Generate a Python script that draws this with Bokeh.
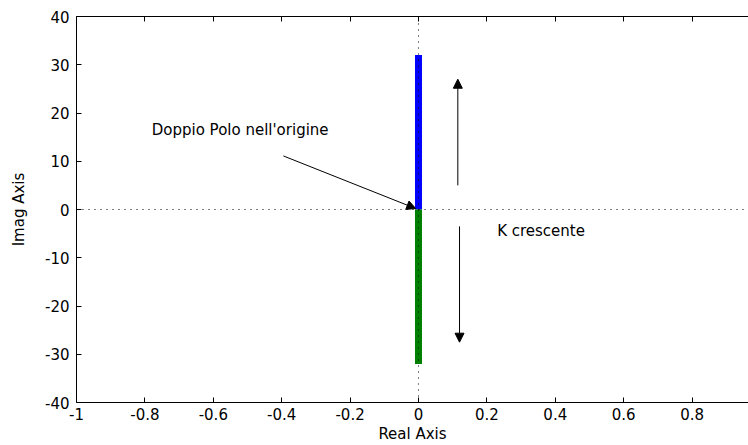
from bokeh.plotting import figure
from bokeh.models import LinearAxis, FixedTicker, Arrow, NormalHead, Range1d, Label
from bokeh.embed import file_html
from bokeh.resources import INLINE

# Root locus of G(s) = K / s^2: two poles at the origin move along the imaginary axis
branch_upper_re = [0.0, 0.0]
branch_upper_im = [0.0, 32.0]
branch_lower_re = [0.0, 0.0]
branch_lower_im = [0.0, -32.0]

x_ticks = [-1.0, -0.8, -0.6, -0.4, -0.2, 0.0, 0.2, 0.4, 0.6, 0.8, 1.0]
x_tick_labels = ["-1", "-0.8", "-0.6", "-0.4", "-0.2", "0", "0.2", "0.4", "0.6", "0.8", "1"]
y_ticks = [-40, -30, -20, -10, 0, 10, 20, 30, 40]
y_tick_labels = ["-40", "-30", "-20", "-10", "0", "10", "20", "30", "40"]

# annotation arrows: (x_start, y_start, x_end, y_end)
pole_arrow = (-0.395, 11.1, -0.008, 0.2)
up_arrow = (0.115, 5.0, 0.115, 27.0)
down_arrow = (0.12, -3.5, 0.12, -27.5)

FONT = "DejaVu Sans"

p = figure(width=748, height=445, output_backend="svg", toolbar_location=None,
           x_range=Range1d(-1.0, 0.965), y_range=Range1d(-40, 40),
           x_axis_label="Real Axis", y_axis_label="Imag Axis")
p.min_border_left = 76
p.min_border_right = 0
p.min_border_top = 16
p.min_border_bottom = 41
p.outline_line_color = None
p.xgrid.visible = False
p.ygrid.visible = False
p.background_fill_color = "white"
p.border_fill_color = "white"

for ax, ticks, labels in ((p.xaxis[0], x_ticks, x_tick_labels), (p.yaxis[0], y_ticks, y_tick_labels)):
    ax.ticker = FixedTicker(ticks=ticks)
    ax.major_label_overrides = {t: l for t, l in zip(ticks, labels)}
    ax.major_tick_in = 5
    ax.major_tick_out = 0
    ax.minor_tick_in = 0
    ax.minor_tick_out = 0
    ax.axis_line_color = "black"
    ax.major_tick_line_color = "black"
    ax.major_label_text_font = FONT
    ax.major_label_text_font_size = "15px"
    ax.major_label_text_color = "black"
    ax.axis_label_text_font = FONT
    ax.axis_label_text_font_size = "15px"
    ax.axis_label_text_font_style = "normal"
    ax.axis_label_text_color = "black"

p.xaxis[0].major_label_standoff = 5
p.xaxis[0].axis_label_standoff = 2
p.yaxis[0].major_label_standoff = 7
p.yaxis[0].axis_label_standoff = 14

# box edge along the top, ticks only
top = LinearAxis(ticker=FixedTicker(ticks=x_ticks), major_tick_in=5, major_tick_out=0,
                 minor_tick_in=0, minor_tick_out=0,
                 major_label_overrides={t: "" for t in x_ticks},
                 major_label_standoff=0,
                 axis_line_color="black", major_tick_line_color="black")
p.add_layout(top, "above")

# locus branches
p.line(branch_upper_re, branch_upper_im, line_color="#0000ff", line_width=7)
p.line(branch_lower_re, branch_lower_im, line_color="#008000", line_width=7)

# dotted axes through the origin
p.line([-1.0, 1.0], [0, 0], line_color="black", line_width=1, line_dash="1 5")
p.line([0, 0], [-40, 40], line_color="black", line_width=1, line_dash="1 5")

for xs, ys, xe, ye in (pole_arrow, up_arrow, down_arrow):
    p.add_layout(Arrow(end=NormalHead(size=9, fill_color="black", line_color="black"),
                       x_start=xs, y_start=ys, x_end=xe, y_end=ye,
                       line_color="black", line_width=1))

p.add_layout(Label(x=-0.78, y=16.5, text="Doppio Polo nell'origine", text_font=FONT,
                   text_font_size="15px", text_color="black", text_baseline="middle"))
p.add_layout(Label(x=0.23, y=-4.5, text="K crescente", text_font=FONT,
                   text_font_size="15px", text_color="black", text_baseline="middle"))

open("out.html", "w").write(file_html(p, INLINE))
